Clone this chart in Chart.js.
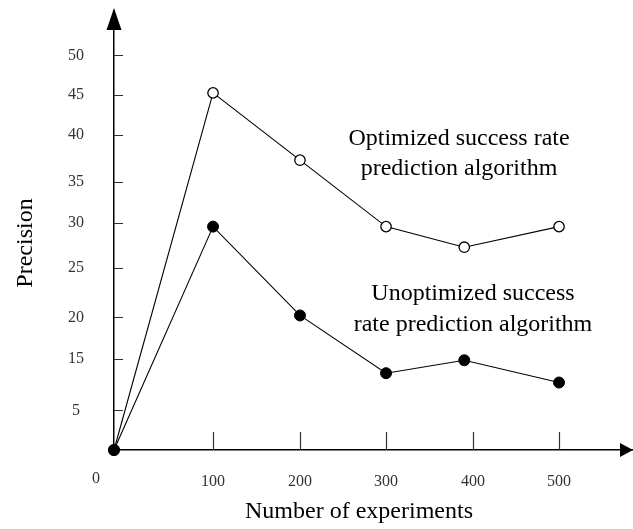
<!DOCTYPE html>
<html>
<head>
<meta charset="utf-8">
<title>Precision vs number of experiments</title>
<script src="https://cdn.jsdelivr.net/npm/chart.js@4/dist/chart.umd.min.js"></script>
<style>
  html, body { margin: 0; padding: 0; background: #fff; }
  #wrap { width: 633px; height: 529px; position: relative; }
</style>
</head>
<body>
<div id="wrap"><canvas id="chart"></canvas></div>
<script>
const experiments = [0, 100, 200, 300, 390, 500];
const optimized = [0, 45.3, 37.3, 29.6, 27.3, 29.6];
const unoptimized = [0, 29.6, 20.2, 12.2, 14.7, 10.4];
const xTicks = [100, 200, 300, 400, 500];
const yTicks = [5, 15, 20, 25, 30, 35, 40, 45, 50];

const serif = "'Liberation Serif', 'Times New Roman', serif";

// the axes in the figure are not evenly spaced, so each tick value gets its own spot
// (pos is in axis steps, span is the full axis length in steps)
const axisBreaks = {
  x: { values: [0].concat(xTicks), pos: [0, 1.145, 2.15, 3.145, 4.15, 5.145], span: 6 },
  y: { values: [0].concat(yTicks), pos: [0, 0.9, 2.08, 3.02, 4.15, 5.17, 6.11, 7.18, 8.08, 8.99], span: 10 }
};

function piecewise(from, to, v) {
  let i = 1;
  while (i < from.length - 1 && v > from[i]) i++;
  const t = (v - from[i - 1]) / (from[i] - from[i - 1]);
  return to[i - 1] + t * (to[i] - to[i - 1]);
}

class BrokenScale extends Chart.LinearScale {
  getPixelForValue(value) {
    const b = axisBreaks[this.id];
    return this.getPixelForDecimal(piecewise(b.values, b.pos, value) / b.span);
  }
  getValueForPixel(pixel) {
    const b = axisBreaks[this.id];
    return piecewise(b.pos, b.values, this.getDecimalForPixel(pixel) * b.span);
  }
}
BrokenScale.id = 'broken';
BrokenScale.defaults = Chart.LinearScale.defaults;
Chart.register(BrokenScale);

function toPoints(ys) {
  return ys.map((y, i) => ({ x: experiments[i], y: y }));
}

function noPadding(s) {
  s.paddingTop = 0;
  s.paddingBottom = 0;
  s.paddingLeft = 0;
  s.paddingRight = 0;
}

const decorations = {
  id: 'decorations',
  beforeDatasetsDraw(chart) {
    const ctx = chart.ctx;
    const { left, bottom } = chart.chartArea;
    const xs = chart.scales.x, ys = chart.scales.y;
    ctx.save();
    ctx.strokeStyle = '#333';
    ctx.lineWidth = 1.2;
    ctx.beginPath();
    xTicks.forEach(v => {
      const px = Math.round(xs.getPixelForValue(v)) + 0.5;
      ctx.moveTo(px, bottom - 18);
      ctx.lineTo(px, bottom);
    });
    yTicks.forEach(v => {
      const py = Math.round(ys.getPixelForValue(v)) + 0.5;
      ctx.moveTo(left, py);
      ctx.lineTo(left + 9, py);
    });
    ctx.stroke();
    ctx.restore();
  },
  afterDraw(chart) {
    const ctx = chart.ctx;
    const { left, top, right, bottom } = chart.chartArea;
    ctx.save();
    ctx.fillStyle = '#000';

    // arrow heads
    ctx.beginPath();
    ctx.moveTo(left, top - 3);
    ctx.lineTo(left - 7.5, top + 19);
    ctx.lineTo(left + 7.5, top + 19);
    ctx.closePath();
    ctx.fill();
    ctx.beginPath();
    ctx.moveTo(right, bottom);
    ctx.lineTo(right - 13, bottom - 7);
    ctx.lineTo(right - 13, bottom + 7);
    ctx.closePath();
    ctx.fill();

    // origin label
    ctx.fillStyle = '#333';
    ctx.font = '16px ' + serif;
    ctx.textAlign = 'center';
    ctx.textBaseline = 'alphabetic';
    ctx.fillText('0', left - 18, 483);

    // series labels and axis titles
    ctx.fillStyle = '#000';
    ctx.font = '24px ' + serif;
    ctx.fillText('Optimized success rate', 459, 145);
    ctx.fillText('prediction algorithm', 459, 175);
    ctx.fillText('Unoptimized success', 473, 300);
    ctx.fillText('rate prediction algorithm', 473, 331);
    ctx.fillText('Number of experiments', 359, 518);

    ctx.translate(31.7, 243);
    ctx.rotate(-Math.PI / 2);
    ctx.fillText('Precision', 0, 0);
    ctx.restore();
  }
};

new Chart(document.getElementById('chart'), {
  type: 'line',
  data: {
    datasets: [
      {
        label: 'Unoptimized success rate prediction algorithm',
        data: toPoints(unoptimized),
        borderColor: '#000',
        borderWidth: 1.1,
        pointRadius: 5.5,
        pointBackgroundColor: '#000',
        pointBorderColor: '#000',
        pointBorderWidth: 1,
        tension: 0,
        clip: false
      },
      {
        label: 'Optimized success rate prediction algorithm',
        data: toPoints(optimized),
        borderColor: '#000',
        borderWidth: 1.1,
        pointRadius: 5.2,
        pointBackgroundColor: '#fff',
        pointBorderColor: '#000',
        pointBorderWidth: 1.3,
        tension: 0,
        clip: false
      }
    ]
  },
  options: {
    responsive: true,
    maintainAspectRatio: false,
    animation: false,
    events: [],
    layout: { padding: { top: 11, right: 0, bottom: 0, left: 0 }, autoPadding: false },
    plugins: {
      legend: { display: false },
      tooltip: { enabled: false }
    },
    scales: {
      x: {
        type: 'broken',
        position: 'bottom',
        min: 0,
        max: 600,
        afterBuildTicks: s => { s.ticks = xTicks.map(v => ({ value: v })); },
        afterFit: s => { s.height = 79; noPadding(s); },
        grid: { display: false },
        border: { display: true, color: '#000', width: 1.5 },
        ticks: {
          padding: 14,
          color: '#333',
          font: { family: serif, size: 16 },
          maxRotation: 0,
          autoSkip: false,
          callback: v => String(v)
        }
      },
      y: {
        type: 'broken',
        position: 'left',
        min: 0,
        max: 60,
        afterBuildTicks: s => { s.ticks = yTicks.map(v => ({ value: v })); },
        afterFit: s => { s.width = 114; noPadding(s); },
        grid: { display: false },
        border: { display: true, color: '#000', width: 1.5 },
        ticks: {
          padding: 22,
          crossAlign: 'center',
          color: '#333',
          font: { family: serif, size: 16 },
          autoSkip: false,
          callback: v => String(v)
        }
      }
    }
  },
  plugins: [decorations]
});
</script>
</body>
</html>
